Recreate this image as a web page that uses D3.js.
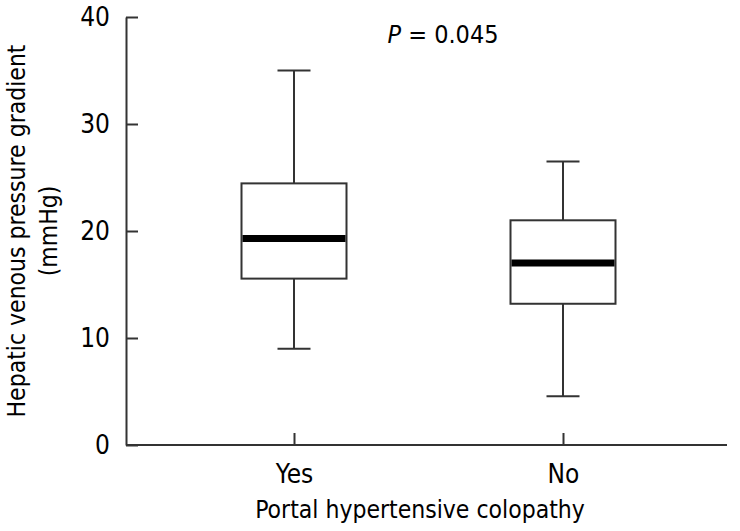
<!DOCTYPE html>
<html><head><meta charset="utf-8">
<script src="https://cdn.jsdelivr.net/npm/d3@7"></script>
<style>body{margin:0;background:#fff}svg{display:block}text{font-family:"DejaVu Sans Condensed","DejaVu Sans",sans-serif;fill:#000}</style>
</head><body>
<svg id="c" width="740" height="531"></svg>
<script>
const categories = ["Yes","No"];
const whiskerMax = [35.0, 26.5];
const q3 = [24.45, 21.0];
const median = [19.3, 17.0];
const q1 = [15.55, 13.2];
const whiskerMin = [9.0, 4.55];
const yTicks = [0,10,20,30,40];
const pLabel = "0.045";

const svg = d3.select("#c");
const fsTick = 26, fsTitle = 24.5;
const y = d3.scaleLinear().domain([0,40]).range([445,17]);
const x = d3.scalePoint().domain(categories).range([294,563]);
const stroke = "#333", sw = 2;
const boxW = 105, capW = 33;

// y axis
const ya = svg.append("g").attr("transform","translate(126,0)")
  .call(d3.axisLeft(y).tickValues(yTicks).tickSizeInner(-12).tickSizeOuter(0).tickPadding(16));
ya.select(".domain").attr("stroke",stroke).attr("stroke-width",sw);
ya.selectAll(".tick line").attr("stroke",stroke).attr("stroke-width",sw);
ya.selectAll(".tick text").attr("font-size",fsTick).attr("font-family",null).attr("fill","#000");

// x axis
const xa = svg.append("g").attr("transform","translate(0,445)")
  .call(d3.axisBottom(x).tickSizeInner(-12).tickSizeOuter(0).tickPadding(19.5));
xa.select(".domain").remove();
xa.append("line").attr("x1",126).attr("x2",727).attr("stroke",stroke).attr("stroke-width",sw);
xa.selectAll(".tick line").attr("stroke",stroke).attr("stroke-width",sw);
xa.selectAll(".tick text").attr("font-size",fsTick).attr("font-family",null).attr("fill","#000");

// boxes
const data = categories.map((c,i)=>({c, max:whiskerMax[i], q3:q3[i], med:median[i], q1:q1[i], min:whiskerMin[i]}));
const g = svg.append("g").selectAll("g").data(data).join("g");
g.append("line").attr("x1",d=>x(d.c)).attr("x2",d=>x(d.c)).attr("y1",d=>y(d.max)).attr("y2",d=>y(d.q3)).attr("stroke",stroke).attr("stroke-width",sw);
g.append("line").attr("x1",d=>x(d.c)).attr("x2",d=>x(d.c)).attr("y1",d=>y(d.q1)).attr("y2",d=>y(d.min)).attr("stroke",stroke).attr("stroke-width",sw);
g.append("line").attr("x1",d=>x(d.c)-capW/2).attr("x2",d=>x(d.c)+capW/2).attr("y1",d=>y(d.max)).attr("y2",d=>y(d.max)).attr("stroke",stroke).attr("stroke-width",sw);
g.append("line").attr("x1",d=>x(d.c)-capW/2).attr("x2",d=>x(d.c)+capW/2).attr("y1",d=>y(d.min)).attr("y2",d=>y(d.min)).attr("stroke",stroke).attr("stroke-width",sw);
g.append("rect").attr("x",d=>x(d.c)-boxW/2).attr("width",boxW).attr("y",d=>y(d.q3)).attr("height",d=>y(d.q1)-y(d.q3)).attr("fill","#fff").attr("stroke",stroke).attr("stroke-width",sw);
g.append("line").attr("x1",d=>x(d.c)-boxW/2+1).attr("x2",d=>x(d.c)+boxW/2-1).attr("y1",d=>y(d.med)).attr("y2",d=>y(d.med)).attr("stroke","#000").attr("stroke-width",7);

// P label
const pt = svg.append("text").attr("x",443).attr("y",43).attr("text-anchor","middle").attr("font-size",25);
pt.append("tspan").attr("font-style","italic").text("P");
pt.append("tspan").text(" = " + pLabel);

// axis titles
svg.append("text").attr("x",420).attr("y",518).attr("text-anchor","middle").attr("font-size",fsTitle).text("Portal hypertensive colopathy");
const yl = svg.append("text").attr("transform","translate(25,231) rotate(-90)").attr("text-anchor","middle").attr("font-size",fsTitle);
yl.append("tspan").attr("x",0).attr("y",0).text("Hepatic venous pressure gradient");
yl.append("tspan").attr("x",0).attr("y",32).text("(mmHg)");
</script>
</body></html>
